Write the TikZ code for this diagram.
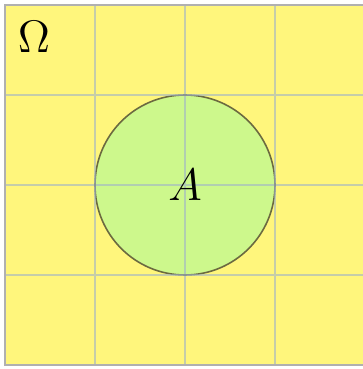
\documentclass[tikz,border=0pt]{standalone}
\definecolor{bgyellow}{HTML}{FFF67C}
\definecolor{setgreen}{HTML}{CDF88C}
\definecolor{gridc}{HTML}{9FB3C8}
\definecolor{borderc}{HTML}{B0B0B0}
\definecolor{circc}{HTML}{6B6A40}
\tikzset{
  universe/.style={fill=bgyellow, draw=none},
  setA/.style={circle, fill=setgreen, draw=circc, line width=0.5pt, minimum size=2cm, inner sep=0pt},
  gridlines/.style={draw=gridc, line width=0.4pt, draw opacity=0.6},
  lbl/.style={font=\fontsize{15}{17}\selectfont, inner sep=0pt}
}
\begin{document}
\begin{tikzpicture}
\useasboundingbox (0,0) rectangle (363/90,369/90);
\coordinate (sw) at (5/90,4/90);
\coordinate (ne) at (365/90,364/90);
\fill[universe] (sw) rectangle (ne);
\node[setA] (A) at (185/90,184/90) {};
\begin{scope}[shift={(sw)}]
\draw[gridlines] (0,0) grid (4,4);
\end{scope}
\draw[borderc, line width=0.8pt] (sw) rectangle (ne);
\node[lbl] (Alabel) at (A.center) {$A$};
\node[lbl] (Omega) at (34/90,332/90) {$\Omega$};
\end{tikzpicture}
\end{document}
